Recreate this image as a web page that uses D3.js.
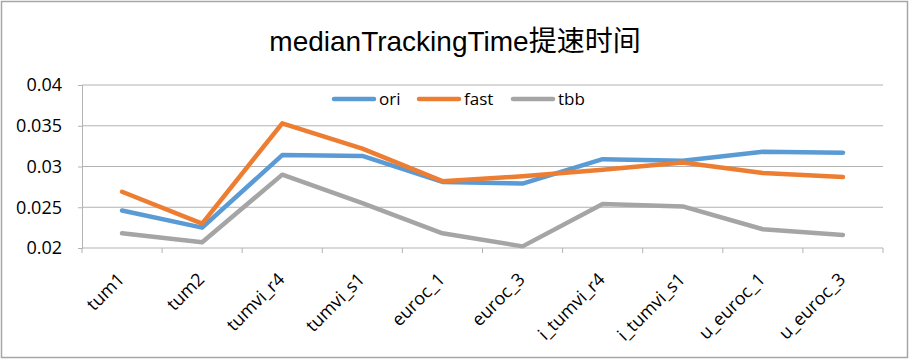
<!DOCTYPE html>
<html><head><meta charset="utf-8">
<script src="https://cdn.jsdelivr.net/npm/d3@7"></script>
<style>body{margin:0;background:#fff}svg{display:block;font-family:"Liberation Sans",Arial,sans-serif}</style>
</head><body><svg id="c" width="912" height="361"></svg>
<script>
const categories = ["tum1","tum2","tumvi_r4","tumvi_s1","euroc_1","euroc_3","i_tumvi_r4","i_tumvi_s1","u_euroc_1","u_euroc_3"];
const ori  = [0.0246,0.0225,0.0314,0.0313,0.0281,0.0279,0.0309,0.0307,0.0318,0.0317];
const fast = [0.0269,0.0230,0.0353,0.0322,0.0282,0.0288,0.0296,0.0305,0.0292,0.0287];
const tbb  = [0.0218,0.0207,0.0290,0.0255,0.0218,0.0202,0.0254,0.0251,0.0223,0.0216];
const yTicks = [0.02,0.025,0.03,0.035,0.04];
const yTickLabels = ["0.02","0.025","0.03","0.035","0.04"];
const seriesNames = ["ori","fast","tbb"];
const colors = ["#5B9BD5","#ED7D31","#A5A5A5"];
const title = "medianTrackingTime提速时间";

const svg = d3.select("#c");
svg.append("rect").attr("x",1.5).attr("y",1.5).attr("width",906).attr("height",356)
  .attr("fill","#fff").attr("stroke","#a6a6a6").attr("stroke-width",1.5);

const L=82,R=883,T=85,B=248;
const x = d3.scaleBand().domain(categories).range([L,R]);
const y = d3.scaleLinear().domain([0.02,0.04]).range([B,T]);

// gridlines
svg.append("g").selectAll("line").data(yTicks.slice(1)).join("line")
  .attr("x1",L).attr("x2",R).attr("y1",d=>y(d)).attr("y2",d=>y(d))
  .attr("stroke","#b3b3b3").attr("stroke-width",1);

// y axis
const ya = svg.append("g").attr("transform",`translate(${L},0)`)
  .call(d3.axisLeft(y).tickValues(yTicks).tickFormat((d,i)=>yTickLabels[i]).tickSize(4).tickPadding(16));
ya.select(".domain").attr("stroke","#b3b3b3");
ya.selectAll(".tick line").attr("stroke","#b3b3b3");
ya.selectAll("text").attr("font-size",18).attr("fill","#000").attr("font-family","'Open Sans',sans-serif");

// x axis
const xa = svg.append("g").attr("transform",`translate(0,${B})`);
xa.append("line").attr("x1",L).attr("x2",R).attr("stroke","#b3b3b3");
const bounds = categories.map(c=>x(c)).concat([x(categories[categories.length-1])+x.bandwidth()]);
xa.selectAll("line.tk").data(bounds).join("line").attr("class","tk")
  .attr("x1",d=>d).attr("x2",d=>d).attr("y1",0).attr("y2",5).attr("stroke","#b3b3b3");
xa.selectAll("text").data(categories).join("text")
  .attr("transform",d=>`translate(${x(d)+x.bandwidth()/2-1},${28}) rotate(-45)`)
  .attr("text-anchor","end").attr("dy","0.35em")
  .attr("font-size",18).attr("font-family","'Open Sans',sans-serif").attr("fill","#000")
  .text(d=>d);

// lines
const data = [ori,fast,tbb];
const line = d3.line().x((d,i)=>x(categories[i])+x.bandwidth()/2).y(d=>y(d));
svg.append("g").selectAll("path").data(data).join("path")
  .attr("d",line).attr("fill","none").attr("stroke",(d,i)=>colors[i])
  .attr("stroke-width",4.5).attr("stroke-linejoin","round").attr("stroke-linecap","round");

// title
svg.append("text").attr("x",455).attr("y",51).attr("text-anchor","middle")
  .attr("font-size",28).attr("font-family","'Liberation Sans','Noto Sans CJK SC',sans-serif").text(title);

// legend
const legX = [334,419,513];
const lg = svg.append("g").selectAll("g").data(seriesNames).join("g")
  .attr("transform",(d,i)=>`translate(${legX[i]},99)`);
lg.append("line").attr("x1",0).attr("x2",40).attr("stroke",(d,i)=>colors[i])
  .attr("stroke-width",4.5).attr("stroke-linecap","round");
lg.append("text").attr("x",45).attr("dy","0.35em").attr("font-size",17)
  .attr("font-family","'Open Sans',sans-serif").text(d=>d);
</script></body></html>
